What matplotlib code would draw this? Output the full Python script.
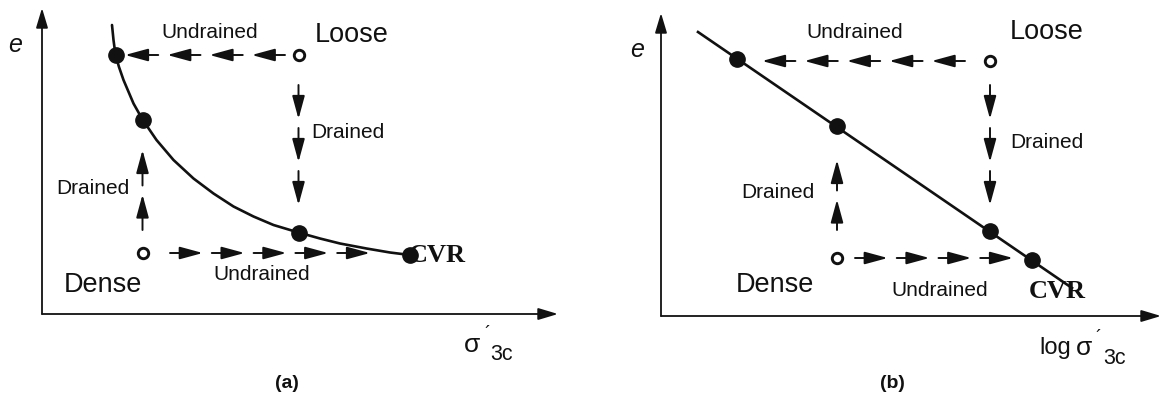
import numpy as np
import matplotlib
matplotlib.use("Agg")
import matplotlib.pyplot as plt

plt.rcParams["font.family"] = ["Liberation Sans", "DejaVu Sans"]

INK = "#111111"

# ── panel (a): e vs sigma'_3c  (schematic units, origin at axis corner) ──────
A_CURVE_X = [1.40, 1.43, 1.47, 1.54, 1.63, 1.83, 2.01, 2.29, 2.63, 3.03, 3.43,
             3.83, 4.23, 4.63, 5.13, 5.56, 5.96, 6.49, 6.96, 7.36]
A_CURVE_Y = [5.78, 5.48, 5.18, 4.94, 4.68, 4.21, 3.89, 3.48, 3.08, 2.71, 2.41,
             2.15, 1.95, 1.78, 1.63, 1.51, 1.41, 1.31, 1.23, 1.18]
A_STATE_X = [1.47, 2.01, 5.13, 7.36]          # states reached (filled)
A_STATE_Y = [5.18, 3.89, 1.63, 1.18]
A_START_X = [5.13, 2.01]                      # loose, dense initial states (open)
A_START_Y = [5.18, 1.22]
# stress paths: x0, y0, x1, y1, number of arrowheads
A_PATHS = [
    (4.86, 5.18, 1.66, 5.18, 4),              # loose, undrained
    (5.13, 4.58, 5.13, 2.18, 3),              # loose, drained
    (2.01, 1.68, 2.01, 3.28, 2),              # dense, drained
    (2.56, 1.22, 6.56, 1.22, 5),              # dense, undrained
]

# ── panel (b): e vs log sigma'_3c ────────────────────────────────────────────
B_LINE_X = [0.74, 8.22]
B_LINE_Y = [5.68, 0.56]
B_STATE_X = [1.52, 3.52, 6.58, 7.42]
B_STATE_Y = [5.15, 3.80, 1.70, 1.12]
B_START_X = [6.58, 3.52]
B_START_Y = [5.10, 1.16]
B_PATHS = [
    (6.08, 5.10, 2.02, 5.10, 5),
    (6.58, 4.62, 6.58, 2.22, 3),
    (3.52, 1.72, 3.52, 3.12, 2),
    (3.88, 1.16, 7.04, 1.16, 4),
]


def arrow(ax, tail, tip, hl, hw, lw):
    ax.annotate("", xy=tip, xytext=tail,
                arrowprops=dict(arrowstyle=f"-|>,head_length={hl},head_width={hw}",
                                color=INK, lw=lw, shrinkA=0, shrinkB=0,
                                mutation_scale=10))


def dashed_path(ax, x0, y0, x1, y1, n, gap=0.18):
    p0 = np.array([x0, y0])
    p1 = np.array([x1, y1])
    d = p1 - p0
    length = np.hypot(*d)
    u = d / length
    step = (length + gap) / n
    for k in range(n):
        tail = p0 + u * k * step
        tip = tail + u * (step - gap)
        arrow(ax, tail, tip, 1.4, 0.38, 1.4)


def setup(ax, x_tip, y_tip):
    ax.set_axis_off()
    arrow(ax, (0, 0), (0, y_tip), 1.2, 0.36, 1.3)
    arrow(ax, (0, 0), (x_tip, 0), 1.2, 0.36, 1.3)


def label(ax, x, y, s, size=15, **kw):
    ax.text(x, y, s, fontsize=size, ha="center", va="center", color=INK, **kw)


fig = plt.figure(figsize=(11.63, 4.05), dpi=100)

# panel (a)
ax_a = fig.add_axes([0, 0, 581 / 1163, 1])
ax_a.set_xlim(-0.84, 10.78)
ax_a.set_ylim(-1.82, 6.28)
setup(ax_a, 10.32, 6.12)
ax_a.plot(A_CURVE_X, A_CURVE_Y, color=INK, lw=1.9, solid_capstyle="round",
          solid_joinstyle="round")
for p in A_PATHS:
    dashed_path(ax_a, *p)
ax_a.plot(A_STATE_X, A_STATE_Y, "o", color=INK, ms=11, zorder=5)
ax_a.plot(A_START_X, A_START_Y, "o", mfc="white", mec=INK, ms=7.5, mew=2.1, zorder=5)

label(ax_a, -0.54, 5.38, "e", 18, style="italic")
label(ax_a, 3.36, 5.64, "Undrained")
label(ax_a, 6.2, 5.58, "Loose", 19.5)
label(ax_a, 6.12, 3.62, "Drained")
label(ax_a, 1.02, 2.52, "Drained")
label(ax_a, 4.4, 0.78, "Undrained")
label(ax_a, 1.22, 0.58, "Dense", 19.5)
label(ax_a, 7.9, 1.18, "CVR", 19, fontweight="bold", family="Liberation Serif", zorder=6)
label(ax_a, 8.6, -0.62, "σ", 19)
label(ax_a, 8.9, -0.40, "´", 13)
label(ax_a, 9.2, -0.80, "3c", 15.5)
label(ax_a, 4.9, -1.38, "(a)", 14, fontweight="bold")

# panel (b)
ax_b = fig.add_axes([581 / 1163, 0, 582 / 1163, 1])
ax_b.set_xlim(-1.6, 10.04)
ax_b.set_ylim(-1.78, 6.32)
setup(ax_b, 10.0, 6.06)
ax_b.plot(B_LINE_X, B_LINE_Y, color=INK, lw=1.9)
for p in B_PATHS:
    dashed_path(ax_b, *p)
ax_b.plot(B_STATE_X, B_STATE_Y, "o", color=INK, ms=11, zorder=5)
ax_b.plot(B_START_X, B_START_Y, "o", mfc="white", mec=INK, ms=7.5, mew=2.1, zorder=5)

label(ax_b, -0.48, 5.32, "e", 18, style="italic")
label(ax_b, 3.88, 5.68, "Undrained")
label(ax_b, 7.72, 5.68, "Loose", 19.5)
label(ax_b, 7.72, 3.48, "Drained")
label(ax_b, 2.34, 2.46, "Drained")
label(ax_b, 2.28, 0.62, "Dense", 19.5)
label(ax_b, 5.58, 0.52, "Undrained")
label(ax_b, 7.92, 0.48, "CVR", 19, fontweight="bold", family="Liberation Serif", zorder=6)
label(ax_b, 7.88, -0.64, "log", 17)
label(ax_b, 8.46, -0.64, "σ", 19)
label(ax_b, 8.74, -0.44, "´", 13)
label(ax_b, 9.08, -0.84, "3c", 15.5)
label(ax_b, 4.62, -1.34, "(b)", 14, fontweight="bold")

fig.savefig("out.png", dpi=100)
